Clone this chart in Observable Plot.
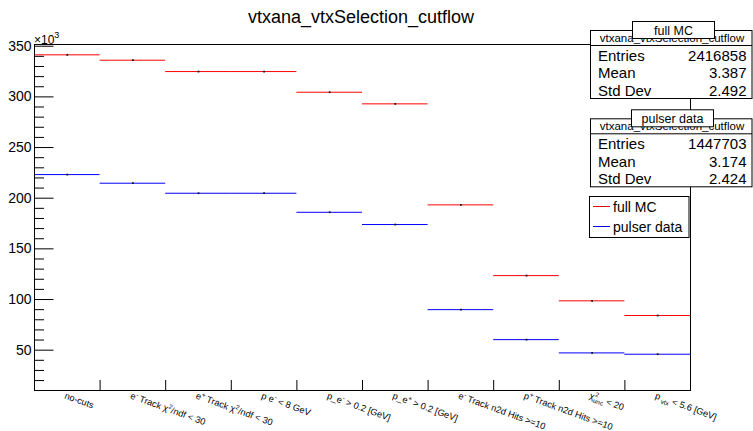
<!DOCTYPE html>
<html><head><meta charset="utf-8">
<script src="https://cdn.jsdelivr.net/npm/d3@7"></script>
<script src="https://cdn.jsdelivr.net/npm/@observablehq/plot@0.6"></script>
<style>
body{margin:0;background:#fff;}
#chart svg{display:block;}
</style></head><body><div id="chart"></div>
<script>
// ---- data (values in units of 10^3 events) ----
const cutLabels = [
  "no-cuts",
  "e^{-} Track χ^{2}/ndf < 30",
  "e^{+} Track χ^{2}/ndf < 30",
  "p e^{-} < 8 GeV",
  "p_e^{-} > 0.2 [GeV]",
  "p_e^{+} > 0.2 [GeV]",
  "e^{-} Track n2d Hits >=10",
  "p^{+} Track n2d Hits >=10",
  "χ^{2}_{unc} < 20",
  "p_{vtx} < 5.6 [GeV]"
];
const fullMC      = [341.5, 336.2, 325.0, 325.0, 304.6, 293.1, 193.4, 123.6, 98.7, 84.2];
const pulserData  = [223.3, 214.8, 204.9, 204.9, 186.1, 174.0, 90.0, 60.4, 47.3, 46.0];
const seriesNames = ["full MC", "pulser data"];
const seriesColors = ["#ff0000", "#0000ff"];
const yMajorTicks = [50, 100, 150, 200, 250, 300, 350];
const yMinorTicks = [20, 30, 40, 60, 70, 80, 90, 110, 120, 130, 140, 160, 170, 180, 190,
                     210, 220, 230, 240, 260, 270, 280, 290, 310, 320, 330, 340];
const histName = "vtxana_vtxSelection_cutflow";
const statsEntries = [2416858, 1447703];
const statsMean = [3.387, 3.174];
const statsStdDev = [2.492, 2.424];

// ---- build table ----
const rows = [];
fullMC.forEach((v, i) => rows.push({series: seriesNames[0], bin: i, value: v}));
pulserData.forEach((v, i) => rows.push({series: seriesNames[1], bin: i, value: v}));
const labelRows = cutLabels.map((t, i) => ({bin: i, text: t}));
const binEdges = d3.range(1, cutLabels.length);

const W = 753, H = 431;
const mL = 34, mR = 63, mT = 44, mB = 41;
const innerW = W - mL - mR, innerH = H - mT - mB;
const FONT = "'Liberation Sans', Arial, Helvetica, sans-serif";
const XFS = 9.2;

const chart = Plot.plot({
  width: W, height: H,
  marginLeft: mL, marginRight: mR, marginTop: mT, marginBottom: mB,
  style: {fontFamily: FONT, background: "white", color: "black", overflow: "visible"},
  x: {domain: [0, cutLabels.length], axis: null},
  y: {domain: [10.2, 351.7], axis: null},
  color: {domain: seriesNames, range: seriesColors},
  marks: [
    Plot.tickY(yMinorTicks, {y: d => d, insetRight: innerW - 10, stroke: "black"}),
    Plot.tickY(yMajorTicks, {y: d => d, insetRight: innerW - 19.5, stroke: "black"}),
    Plot.tickX(binEdges, {x: d => d, insetTop: innerH - 10, stroke: "black"}),
    Plot.text(yMajorTicks, {y: d => d, frameAnchor: "left", dx: -3, textAnchor: "end",
      fontSize: 14, text: d => String(d), fill: "black"}),
    Plot.ruleY(rows, {x1: d => d.bin, x2: d => d.bin + 1, y: "value", stroke: "series", strokeWidth: 1}),
    Plot.dot(rows, {x: d => d.bin + 0.5, y: "value", r: 1, symbol: "square", fill: "#111", stroke: null}),
    Plot.text(labelRows, {x: d => d.bin + 0.5, frameAnchor: "bottom", dx: -1, dy: 1.5, rotate: 20,
      textAnchor: "start", lineAnchor: "top", fontSize: XFS, text: "text", fill: "black", className: "xlab"}),
    Plot.frame({stroke: "black"})
  ]
});
document.getElementById("chart").appendChild(chart);

const svg = d3.select(chart);

// rich text for x labels (^{..} superscript, _{..} subscript)
function richText(sel, str, base) {
  sel.text(null);
  const toks = str.split(/(\^\{[^}]*\}|_\{[^}]*\})/).filter(s => s !== "");
  let cur = 0, prevType = null, prevLen = 0;
  toks.forEach(tok => {
    let type = "n", content = tok;
    if (tok.startsWith("^{")) { type = "sup"; content = tok.slice(2, -1); }
    else if (tok.startsWith("_{")) { type = "sub"; content = tok.slice(2, -1); }
    const size = type === "n" ? base : base * 0.7;
    const target = type === "sup" ? -0.4 * base : type === "sub" ? 0.3 * base : 0;
    const ts = sel.append("tspan").attr("font-size", size).attr("dy", target - cur).text(content);
    if (type === "sub" && prevType === "sup") ts.attr("dx", -prevLen * 0.556 * base * 0.7);
    else if (type === "sub") ts.attr("dx", 2);
    cur = target; prevType = type; prevLen = content.length;
  });
}
svg.selectAll("g.xlab text").each(function(d, i) {
  richText(d3.select(this), cutLabels[i], XFS);
});

const over = svg.append("g").attr("font-family", FONT).attr("fill", "black").attr("text-anchor", "start");

// title
over.append("text").attr("x", 361).attr("y", 22.5).attr("text-anchor", "middle")
  .attr("font-size", 18).text(histName);

// y exponent
const ex = over.append("text").attr("x", 34).attr("y", 43.5).attr("font-size", 12).attr("text-anchor", "start");
ex.append("tspan").text("×10");
ex.append("tspan").attr("font-size", 9).attr("dy", -5.5).text("3");

// stats boxes
const fmtEntries = d3.format("d");
const fmt3 = d3.format(".3f");
[0, 1].forEach(k => {
  const oy = k * 88.3;
  const g = over.append("g").attr("transform", `translate(0,${oy})`);
  g.append("rect").attr("x", 590.5).attr("y", 30.5).attr("width", 161.5).attr("height", 68)
    .attr("fill", "white").attr("stroke", "black");
  g.append("line").attr("x1", 590.5).attr("x2", 752).attr("y1", 45.5).attr("y2", 45.5).attr("stroke", "black");
  g.append("text").attr("x", 672).attr("y", 41.5).attr("text-anchor", "middle").attr("font-size", 11.5).text(histName);
  const rowsTxt = [["Entries", fmtEntries(statsEntries[k])], ["Mean", fmt3(statsMean[k])], ["Std Dev", fmt3(statsStdDev[k])]];
  rowsTxt.forEach((r, j) => {
    g.append("text").attr("x", 598).attr("y", 61 + j * 17.3).attr("font-size", 15).attr("text-anchor", "start").text(r[0]);
    g.append("text").attr("x", 746.5).attr("y", 61 + j * 17.3).attr("font-size", 15).attr("text-anchor", "end").text(r[1]);
  });
  const tb = [[632.5, 82], [631.5, 82]][k];
  g.append("rect").attr("x", tb[0]).attr("y", 21.5).attr("width", tb[1]).attr("height", 17)
    .attr("fill", "white").attr("stroke", "black");
  g.append("text").attr("x", tb[0] + tb[1] / 2).attr("y", 34.5).attr("text-anchor", "middle")
    .attr("font-size", 12.5).text(seriesNames[k]);
});

// legend
const lg = over.append("g");
lg.append("rect").attr("x", 589.5).attr("y", 196.5).attr("width", 99.5).attr("height", 41)
  .attr("fill", "white").attr("stroke", "black");
seriesNames.forEach((s, k) => {
  const y = 206.5 + k * 20;
  lg.append("line").attr("x1", 593).attr("x2", 610).attr("y1", y).attr("y2", y).attr("stroke", seriesColors[k]);
  lg.append("rect").attr("x", 601).attr("y", y - 0.5).attr("width", 1).attr("height", 1).attr("fill", "#111");
  lg.append("text").attr("x", 613).attr("y", y + 5).attr("font-size", 14).attr("text-anchor", "start").text(s);
});
</script></body></html>
